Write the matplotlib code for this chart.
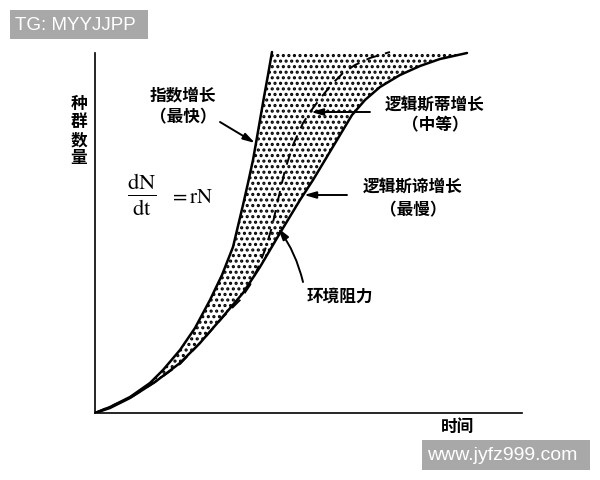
import matplotlib
matplotlib.use("Agg")
import matplotlib.pyplot as plt
from matplotlib.patches import Polygon, Rectangle

plt.rcParams['font.family'] = ['Noto Sans CJK SC', 'DejaVu Sans']
plt.rcParams['hatch.linewidth'] = 1.5

# curves (time, population)
exp_t = [0, 1.5, 3.5, 5.5, 6.8, 8.5, 10.0, 11.5, 12.7, 13.8, 14.8, 15.3, 15.8,
         16.1, 16.5, 16.9, 17.3, 17.7]
exp_n = [0, 0.6, 1.6, 3.0, 4.3, 6.3, 8.5, 11.3, 13.8, 16.6, 20.8, 23.0, 25.3,
         27.0, 29.3, 31.6, 33.8, 36.1]

log_t = [0, 1.5, 3.5, 6.0, 8.5, 10.5, 12.5, 14.8, 16.5, 18.5, 20.5, 21.8, 23.0,
         24.5, 25.7, 27.0, 28.5, 30.5, 32.5, 34.5, 37.2]
log_n = [0, 0.5, 1.5, 3.1, 5.0, 7.0, 9.3, 12.0, 14.6, 18.0, 21.3, 23.3, 25.3,
         27.8, 29.8, 31.3, 32.6, 33.8, 34.7, 35.4, 36.0]

mid_t = [0, 3.5, 6.0, 8.5, 10.5, 12.8, 14.5, 15.5, 16.2, 17.0, 17.7, 18.3, 19.0,
         19.8, 20.8, 21.8, 22.8, 23.8, 24.8, 26.0, 27.5, 29.5]
mid_n = [0, 1.5, 3.1, 4.9, 7.0, 9.6, 11.3, 12.8, 14.3, 16.3, 18.6, 21.3, 24.3,
         26.8, 29.0, 30.5, 31.8, 33.0, 34.0, 34.8, 35.5, 36.1]

fig = plt.figure(figsize=(6, 4.8), dpi=100)
ax = fig.add_axes([95/600, 67/480, 427/600, 363/480])
ax.set_xlim(0, 42.7)
ax.set_ylim(0, 36.3)

# stippled area between J and S curves
poly = list(zip(exp_t, exp_n)) + list(zip(log_t[::-1], log_n[::-1]))
ax.add_patch(Polygon(poly, closed=True, facecolor='white', edgecolor='black',
                     hatch='...', linewidth=0))

ax.plot(exp_t, exp_n, color='black', lw=1.8, solid_capstyle='round', solid_joinstyle='round')
ax.plot(log_t, log_n, color='black', lw=1.8, solid_capstyle='round', solid_joinstyle='round')
ax.plot(mid_t, mid_n, color='black', lw=1.4, dashes=(6, 4))

for s in ['top', 'right']:
    ax.spines[s].set_visible(False)
ax.spines['left'].set_bounds(0, 36.0)
ax.spines['left'].set_linewidth(1.2)
ax.spines['bottom'].set_linewidth(1.2)
ax.set_xticks([])
ax.set_yticks([])

tk = dict(fontsize=12, fontweight='bold', ha='center', va='center')
ax.text(8.8, 31.8, '指数增长', **tk)
ax.text(8.8, 29.6, '（最快）', **tk)
ax.text(34.0, 30.8, '逻辑斯蒂增长', **tk)
ax.text(34.0, 28.8, '（中等）', **tk)
ax.text(31.8, 22.6, '逻辑斯谛增长', **tk)
ax.text(31.8, 20.3, '（最慢）', **tk)
ax.text(24.5, 11.6, '环境阻力', **tk)
ax.text(36.2, -1.4, '时间', clip_on=False, **tk)
ax.text(-1.6, 28.2, '种\n群\n数\n量', linespacing=1.0, clip_on=False, **tk)

ax.text(4.7, 21.8, r'$\frac{\mathrm{dN}}{\mathrm{dt}}$', fontsize=23,
        ha='center', va='center', math_fontfamily='stix')
ax.text(7.4, 21.6, r'$=\mathrm{rN}$', fontsize=15, ha='left', va='center',
        math_fontfamily='stix')

ap = dict(arrowstyle='-|>,head_length=0.7,head_width=0.2', color='black', lw=1.4,
          shrinkA=0, shrinkB=0)
ax.annotate('', xy=(16.0, 27.0), xytext=(12.5, 29.1), arrowprops=ap)
ax.annotate('', xy=(21.6, 30.1), xytext=(27.5, 30.1), arrowprops=ap)
ax.annotate('', xy=(20.9, 21.8), xytext=(25.2, 21.8), arrowprops=ap)
ax.annotate('', xy=(18.3, 18.5), xytext=(20.8, 13.1),
            arrowprops=dict(ap, connectionstyle='arc3,rad=0.1'))

# watermarks
fig.add_artist(Rectangle((10/600, 1 - 39/480), 138/600, 29/480,
                         transform=fig.transFigure, facecolor='#a8a8a8', edgecolor='none'))
fig.text(15/600, 1 - 25/480, 'TG: MYYJJPP', color='white', fontsize=13.5,
         family='Liberation Sans', ha='left', va='center')
fig.add_artist(Rectangle((422/600, 1 - 470/480), 168/600, 30/480,
                         transform=fig.transFigure, facecolor='#a8a8a8', edgecolor='none'))
fig.text(427/600, 1 - 455/480, 'www.jyfz999.com', color='white', fontsize=14,
         family='Liberation Sans', ha='left', va='center')

fig.savefig('out.png', dpi=100)
